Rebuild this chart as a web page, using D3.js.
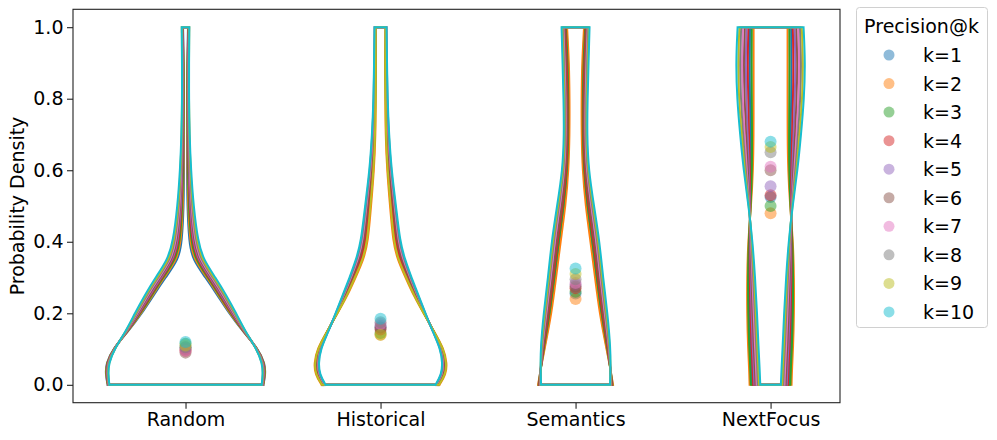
<!DOCTYPE html>
<html><head><meta charset="utf-8">
<script src="https://cdn.jsdelivr.net/npm/d3@7"></script>
<style>
body{margin:0;background:#fff}
text{font-family:"DejaVu Sans",sans-serif;fill:#000}
</style>
</head><body>
<svg id="chart" width="997" height="440"></svg>
<script>
// ---------- data ----------
const categories = ["Random", "Historical", "Semantics", "NextFocus"];
const seriesLabels = ["k=1","k=2","k=3","k=4","k=5","k=6","k=7","k=8","k=9","k=10"];
const colors = ["#1f77b4","#ff7f0e","#2ca02c","#d62728","#9467bd","#8c564b","#e377c2","#7f7f7f","#bcbd22","#17becf"];
const yTicks = [0.0, 0.2, 0.4, 0.6, 0.8, 1.0];

// mean precision per k (points)
const meanRandom     = [0.105, 0.100, 0.115, 0.095, 0.100, 0.090, 0.095, 0.105, 0.110, 0.120];
const meanHistorical = [0.160, 0.140, 0.145, 0.155, 0.165, 0.160, 0.170, 0.175, 0.140, 0.185];
const meanSemantics  = [0.255, 0.240, 0.260, 0.270, 0.280, 0.275, 0.285, 0.295, 0.310, 0.325];
const meanNextFocus  = [0.525, 0.480, 0.500, 0.530, 0.555, 0.600, 0.610, 0.650, 0.665, 0.680];

// precision levels at which the density is given
const knotsRandom     = [0, 0.03, 0.06, 0.1, 0.15, 0.2, 0.25, 0.3, 0.35, 0.4, 0.5, 0.6, 0.7, 0.8, 0.9, 1.0];
const knotsHistorical = [0, 0.03, 0.06, 0.1, 0.15, 0.2, 0.25, 0.3, 0.35, 0.4, 0.5, 0.6, 0.7, 0.8, 0.9, 1.0];
const knotsSemantics  = [0, 0.05, 0.1, 0.2, 0.3, 0.4, 0.5, 0.6, 0.7, 0.8, 0.9, 1.0];
const knotsNextFocus  = [0, 0.05, 0.1, 0.2, 0.3, 0.4, 0.5, 0.6, 0.7, 0.8, 0.9, 1.0];

// estimated density at each knot, one row per k
const densityRandom = [
  [7.8, 8.0, 7.95, 7.3, 5.7, 4.35, 3.2, 2.0, 0.7, 0.35, 0.18, 0.15, 0.15, 0.15, 0.16, 0.25],
  [7.78, 7.97, 7.92, 7.28, 5.73, 4.43, 3.3, 2.15, 0.85, 0.45, 0.25, 0.2, 0.18, 0.18, 0.18, 0.28],
  [7.76, 7.94, 7.89, 7.26, 5.76, 4.51, 3.4, 2.25, 1.0, 0.55, 0.32, 0.25, 0.22, 0.2, 0.2, 0.3],
  [7.74, 7.91, 7.86, 7.24, 5.79, 4.59, 3.5, 2.35, 1.15, 0.65, 0.4, 0.3, 0.25, 0.23, 0.23, 0.32],
  [7.72, 7.88, 7.83, 7.22, 5.82, 4.67, 3.6, 2.45, 1.25, 0.75, 0.45, 0.34, 0.28, 0.25, 0.25, 0.33],
  [7.7, 7.85, 7.8, 7.2, 5.85, 4.75, 3.7, 2.55, 1.35, 0.85, 0.52, 0.38, 0.3, 0.28, 0.28, 0.34],
  [7.68, 7.82, 7.77, 7.18, 5.88, 4.83, 3.8, 2.65, 1.45, 0.95, 0.58, 0.42, 0.33, 0.3, 0.3, 0.35],
  [7.66, 7.79, 7.74, 7.16, 5.91, 4.91, 3.9, 2.75, 1.55, 1.05, 0.65, 0.46, 0.36, 0.32, 0.32, 0.36],
  [7.64, 7.76, 7.71, 7.14, 5.94, 4.99, 4.0, 2.85, 1.65, 1.15, 0.72, 0.5, 0.38, 0.34, 0.34, 0.37],
  [7.62, 7.73, 7.68, 7.12, 5.97, 5.07, 4.1, 3.0, 1.8, 1.25, 0.8, 0.55, 0.4, 0.35, 0.35, 0.38]
];
const densityHistorical = [
  [5.72, 6.35, 6.45, 6.19, 5.28, 4.39, 3.52, 2.77, 2.03, 1.56, 1.22, 0.85, 0.66, 0.58, 0.54, 0.54],
  [5.9, 6.55, 6.65, 6.35, 5.35, 4.3, 3.3, 2.5, 1.7, 1.25, 0.95, 0.65, 0.5, 0.48, 0.45, 0.5],
  [5.81, 6.45, 6.55, 6.27, 5.32, 4.34, 3.41, 2.63, 1.87, 1.41, 1.08, 0.75, 0.58, 0.53, 0.49, 0.52],
  [5.77, 6.4, 6.5, 6.23, 5.3, 4.37, 3.47, 2.7, 1.95, 1.48, 1.15, 0.8, 0.62, 0.55, 0.52, 0.53],
  [5.63, 6.25, 6.35, 6.12, 5.25, 4.43, 3.63, 2.9, 2.2, 1.72, 1.35, 0.95, 0.73, 0.63, 0.58, 0.57],
  [5.68, 6.3, 6.4, 6.16, 5.27, 4.41, 3.58, 2.83, 2.12, 1.64, 1.28, 0.9, 0.69, 0.6, 0.56, 0.56],
  [5.59, 6.2, 6.3, 6.08, 5.23, 4.46, 3.69, 2.97, 2.28, 1.79, 1.42, 1.0, 0.77, 0.65, 0.61, 0.58],
  [5.54, 6.15, 6.25, 6.04, 5.22, 4.48, 3.74, 3.03, 2.37, 1.87, 1.48, 1.05, 0.81, 0.68, 0.63, 0.59],
  [5.85, 6.5, 6.6, 6.31, 5.33, 4.32, 3.36, 2.57, 1.78, 1.33, 1.02, 0.7, 0.54, 0.5, 0.47, 0.51],
  [5.5, 6.1, 6.2, 6.0, 5.2, 4.5, 3.8, 3.1, 2.45, 1.95, 1.55, 1.1, 0.85, 0.7, 0.65, 0.6]
];
const densitySemantics = [
  [3.72, 3.46, 3.14, 2.49, 2.04, 1.6, 1.09, 0.77, 0.66, 0.67, 0.72, 0.91],
  [3.75, 3.45, 3.1, 2.4, 1.95, 1.5, 1.0, 0.7, 0.6, 0.6, 0.65, 0.85],
  [3.68, 3.46, 3.19, 2.58, 2.13, 1.7, 1.19, 0.83, 0.72, 0.73, 0.79, 0.97],
  [3.65, 3.47, 3.23, 2.67, 2.22, 1.8, 1.28, 0.9, 0.78, 0.8, 0.87, 1.03],
  [3.58, 3.48, 3.32, 2.84, 2.39, 2.0, 1.47, 1.03, 0.91, 0.93, 1.01, 1.16],
  [3.62, 3.47, 3.28, 2.76, 2.31, 1.9, 1.38, 0.97, 0.84, 0.87, 0.94, 1.09],
  [3.55, 3.48, 3.37, 2.93, 2.48, 2.1, 1.57, 1.1, 0.97, 1.0, 1.08, 1.22],
  [3.52, 3.49, 3.41, 3.02, 2.57, 2.2, 1.66, 1.17, 1.03, 1.07, 1.16, 1.28],
  [3.48, 3.49, 3.46, 3.11, 2.66, 2.3, 1.76, 1.23, 1.09, 1.13, 1.23, 1.34],
  [3.45, 3.5, 3.5, 3.2, 2.75, 2.4, 1.85, 1.3, 1.15, 1.2, 1.3, 1.4]
];
const densityNextFocus = [
  [1.86, 1.92, 2.02, 2.13, 2.17, 2.15, 2.01, 1.96, 2.0, 2.07, 2.09, 2.06],
  [2.1, 2.15, 2.25, 2.35, 2.35, 2.25, 1.95, 1.75, 1.7, 1.7, 1.7, 1.7],
  [1.98, 2.03, 2.13, 2.24, 2.26, 2.2, 1.98, 1.86, 1.85, 1.88, 1.9, 1.88],
  [1.74, 1.8, 1.9, 2.02, 2.08, 2.1, 2.03, 2.07, 2.15, 2.25, 2.29, 2.23],
  [1.62, 1.68, 1.78, 1.91, 1.99, 2.05, 2.06, 2.17, 2.3, 2.43, 2.49, 2.41],
  [1.51, 1.57, 1.67, 1.8, 1.91, 2.0, 2.09, 2.28, 2.45, 2.62, 2.69, 2.59],
  [1.39, 1.45, 1.55, 1.68, 1.82, 1.95, 2.12, 2.39, 2.6, 2.8, 2.88, 2.77],
  [1.27, 1.33, 1.43, 1.57, 1.73, 1.9, 2.14, 2.49, 2.75, 2.98, 3.08, 2.94],
  [1.15, 1.22, 1.32, 1.46, 1.64, 1.85, 2.17, 2.6, 2.9, 3.17, 3.27, 3.12],
  [1.03, 1.1, 1.2, 1.35, 1.55, 1.8, 2.2, 2.7, 3.05, 3.35, 3.47, 3.3]
];

const groups = [
  {knots: knotsRandom,     dens: densityRandom,     means: meanRandom},
  {knots: knotsHistorical, dens: densityHistorical, means: meanHistorical},
  {knots: knotsSemantics,  dens: densitySemantics,  means: meanSemantics},
  {knots: knotsNextFocus,  dens: densityNextFocus,  means: meanNextFocus}
];

// ---------- layout ----------
const svg = d3.select("#chart");
const L = 73, R = 840, T = 9.3, B = 402.7;
const x = d3.scaleLinear().domain([-0.577, 3.356]).range([L, R]);
const y = d3.scaleLinear().domain([-0.05, 1.05]).range([B, T]);
const halfWidth = d3.scaleLinear().domain([0, 8]).range([0, 0.41]);
const FS = 19;

// violins: each side drawn top -> bottom with a smooth spline, plus flat cap and base
const side = d3.line().curve(d3.curveBasis);
const seg = d3.line();
const gV = svg.append("g");
groups.forEach((g, ci) => {
  g.dens.forEach((row, si) => {
    const idx = d3.range(g.knots.length).reverse(); // top (v=1) to bottom (v=0)
    const leftPts  = idx.map(i => [x(ci - halfWidth(row[i])), y(g.knots[i])]);
    const rightPts = idx.map(i => [x(ci + halfWidth(row[i])), y(g.knots[i])]);
    const n = leftPts.length - 1;
    const d = side(leftPts) + side(rightPts) +
              seg([leftPts[0], rightPts[0]]) + seg([leftPts[n], rightPts[n]]);
    gV.append("path")
      .attr("d", d)
      .attr("fill", "none")
      .attr("stroke", colors[si])
      .attr("stroke-width", 2)
      .attr("stroke-linecap", "square")
      .attr("stroke-linejoin", "round");
  });
});

// mean points
const gP = svg.append("g");
groups.forEach((g, ci) => {
  g.means.forEach((m, si) => {
    gP.append("circle")
      .attr("cx", x(ci)).attr("cy", y(m)).attr("r", 6)
      .attr("fill", colors[si]).attr("fill-opacity", 0.5);
  });
});

// axes
const yAxis = d3.axisLeft(y).tickValues(yTicks).tickFormat(d3.format(".1f")).tickSize(6).tickPadding(3.5);
const gy = svg.append("g").attr("transform", `translate(${L},0)`).call(yAxis);
const xAxis = d3.axisBottom(x).tickValues(d3.range(categories.length)).tickFormat(i => categories[i]).tickSize(6).tickPadding(3.5);
const gx = svg.append("g").attr("transform", `translate(0,${B})`).call(xAxis);
[gx, gy].forEach(g => {
  g.select(".domain").remove();
  g.selectAll(".tick line").attr("stroke", "#222").attr("stroke-width", 1.1);
  g.selectAll(".tick text").attr("font-size", FS).attr("font-family", "DejaVu Sans").attr("fill", "#000");
});
svg.append("rect").attr("x", L).attr("y", T).attr("width", R - L).attr("height", B - T)
  .attr("fill", "none").attr("stroke", "#222").attr("stroke-width", 1.1);

svg.append("text")
  .attr("transform", `translate(24,${(T + B) / 2}) rotate(-90)`)
  .attr("text-anchor", "middle").attr("font-size", FS)
  .text("Probability Density");

// legend
const lg = svg.append("g");
lg.append("rect").attr("x", 856.5).attr("y", 7.5).attr("width", 131).attr("height", 320).attr("rx", 3)
  .attr("fill", "#fff").attr("fill-opacity", 0.8).attr("stroke", "#d0d0d0").attr("stroke-width", 1);
lg.append("text").attr("x", 921.5).attr("y", 32.5).attr("text-anchor", "middle").attr("font-size", FS).text("Precision@k");
seriesLabels.forEach((lab, i) => {
  const cy = 55 + i * 28.55;
  lg.append("circle").attr("cx", 889).attr("cy", cy).attr("r", 5.5).attr("fill", colors[i]).attr("fill-opacity", 0.5);
  lg.append("text").attr("x", 923).attr("y", cy + 7).attr("font-size", FS).text(lab);
});
</script>
</body></html>
